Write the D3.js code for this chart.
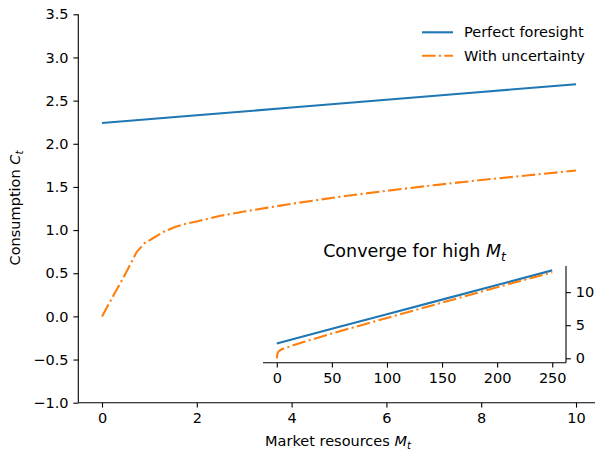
<!DOCTYPE html>
<html>
<head>
<meta charset="utf-8">
<script src="https://cdn.jsdelivr.net/npm/d3@7"></script>
<style>
  body { margin: 0; background: #fff; }
  svg { display: block; }
  text { font-family: "DejaVu Sans", sans-serif; fill: #000; }
</style>
</head>
<body>
<svg id="chart" width="595" height="452"></svg>
<script>
// ---- data ----
const pfX = [0, 2, 4, 6, 8, 10];
const pfY = [2.24, 2.33, 2.42, 2.51, 2.60, 2.69];
const uncX = [0, 0.25, 0.5, 0.73, 0.9, 1.12, 1.3, 1.54, 1.75, 2.0, 2.5, 3.0, 3.5, 4.0, 5.0, 6.0, 7.0, 8.0, 9.0, 10.0];
const uncY = [0, 0.25, 0.5, 0.745, 0.85, 0.92, 0.98, 1.035, 1.07, 1.10, 1.165, 1.215, 1.26, 1.305, 1.385, 1.455, 1.52, 1.58, 1.635, 1.69];
const insetPfX = [0, 50, 100, 150, 200, 250];
const insetPfY = [2.24, 4.45, 6.66, 8.87, 11.08, 13.29];
const insetUncX = [0, 0.75, 2, 5, 10, 25, 50, 100, 150, 200, 250];
const insetUncY = [0, 0.76, 1.1, 1.4, 1.69, 2.5, 3.75, 6.1, 8.42, 10.73, 13.0];
const xTicks = [0, 2, 4, 6, 8, 10];
const yTicks = [-1.0, -0.5, 0.0, 0.5, 1.0, 1.5, 2.0, 2.5, 3.0, 3.5];
const insetXTicks = [0, 50, 100, 150, 200, 250];
const insetYTicks = [0, 5, 10];
const seriesNames = ["Perfect foresight", "With uncertainty"];
const colors = ["#1f77b4", "#ff7f0e"];

const svg = d3.select("#chart");
const FS = 14.5;
const LW = 2.1;
const DASHDOT = "13.5,3.4,2.1,3.4";

// ---- main axes ----
const x = d3.scaleLinear().domain([-0.5, 10.5]).range([78.3, 599.7]);
const y = d3.scaleLinear().domain([-1, 3.5]).range([402.7, 14.3]);

const xAxis = d3.axisBottom(x).tickValues(xTicks).tickFormat(d3.format("d")).tickSize(4.9).tickPadding(4.9);
const yAxis = d3.axisLeft(y).tickValues(yTicks).tickFormat(d3.format(".1f")).tickSize(4.9).tickPadding(4.9);

function styleAxis(g) {
  g.selectAll("path.domain").attr("stroke", "#000").attr("stroke-width", 1.1);
  g.selectAll(".tick line").attr("stroke", "#000").attr("stroke-width", 1.1);
  g.selectAll(".tick text").attr("font-size", FS).attr("font-family", "DejaVu Sans").attr("fill", "#000");
}

const gx = svg.append("g").attr("transform", `translate(0,${y.range()[0]})`).call(xAxis);
gx.select("path.domain").attr("d", `M${x.range()[0]},0H${x.range()[1]}`);
styleAxis(gx);
const gy = svg.append("g").attr("transform", `translate(${x.range()[0]},0)`).call(yAxis);
gy.select("path.domain").attr("d", `M0,${y.range()[0]}V${y.range()[1]}`);
gy.selectAll(".tick text").text(d => d3.format(".1f")(d).replace("-", "\u2212"));
styleAxis(gy);

const line = d3.line().x(d => x(d[0])).y(d => y(d[1]));
svg.append("path").datum(d3.zip(pfX, pfY)).attr("d", line)
  .attr("fill", "none").attr("stroke", colors[0]).attr("stroke-width", LW);
svg.append("path").datum(d3.zip(uncX, uncY)).attr("d", line)
  .attr("fill", "none").attr("stroke", colors[1]).attr("stroke-width", LW)
  .attr("stroke-dasharray", DASHDOT);

// axis labels
function mathLabel(sel, prefix, sym, sub) {
  sel.append("tspan").text(prefix);
  sel.append("tspan").attr("font-style", "italic").text(sym);
  sel.append("tspan").attr("font-style", "italic").attr("font-size", FS * 0.7).attr("dy", 3).text(sub);
}
const xl = svg.append("text").attr("x", 338).attr("y", 446).attr("text-anchor", "middle").attr("font-size", FS);
mathLabel(xl, "Market resources ", "M", "t");
const yl = svg.append("text").attr("transform", "translate(20,208) rotate(-90)").attr("text-anchor", "middle").attr("font-size", FS);
mathLabel(yl, "Consumption ", "C", "t");

// legend
seriesNames.forEach((name, i) => {
  const ly = 32.3 + i * 23.4;
  svg.append("line").attr("x1", 422).attr("x2", 453).attr("y1", ly).attr("y2", ly)
    .attr("stroke", colors[i]).attr("stroke-width", LW)
    .attr("stroke-dasharray", i === 1 ? DASHDOT : null);
  svg.append("text").attr("x", 464).attr("y", ly + 5).attr("font-size", FS).text(name);
});

// ---- inset axes ----
const ix = d3.scaleLinear().domain([-12.5, 262.5]).range([263, 566]);
const iy = d3.scaleLinear().domain([-0.6645, 13.95]).range([362.7, 266]);

const ixAxis = d3.axisBottom(ix).tickValues(insetXTicks).tickFormat(d3.format("d")).tickSize(4.9).tickPadding(4.9);
const iyAxis = d3.axisRight(iy).tickValues(insetYTicks).tickFormat(d3.format("d")).tickSize(4.9).tickPadding(4.9);

const gix = svg.append("g").attr("transform", `translate(0,${iy.range()[0]})`).call(ixAxis);
gix.select("path.domain").attr("d", `M${ix.range()[0]},0H${ix.range()[1]}`);
styleAxis(gix);
const giy = svg.append("g").attr("transform", `translate(${ix.range()[1]},0)`).call(iyAxis);
giy.select("path.domain").attr("d", `M0,${iy.range()[0]}V${iy.range()[1]}`);
styleAxis(giy);

const iline = d3.line().x(d => ix(d[0])).y(d => iy(d[1]));
svg.append("path").datum(d3.zip(insetPfX, insetPfY)).attr("d", iline)
  .attr("fill", "none").attr("stroke", colors[0]).attr("stroke-width", LW);
svg.append("path").datum(d3.zip(insetUncX, insetUncY)).attr("d", iline)
  .attr("fill", "none").attr("stroke", colors[1]).attr("stroke-width", LW)
  .attr("stroke-dasharray", DASHDOT);

const TFS = 17.5;
const tt = svg.append("text").attr("x", 414.5).attr("y", 257.3).attr("text-anchor", "middle").attr("font-size", TFS);
tt.append("tspan").text("Converge for high ");
tt.append("tspan").attr("font-style", "italic").text("M");
tt.append("tspan").attr("font-style", "italic").attr("font-size", TFS * 0.7).attr("dy", 3.5).text("t");
</script>
</body>
</html>
